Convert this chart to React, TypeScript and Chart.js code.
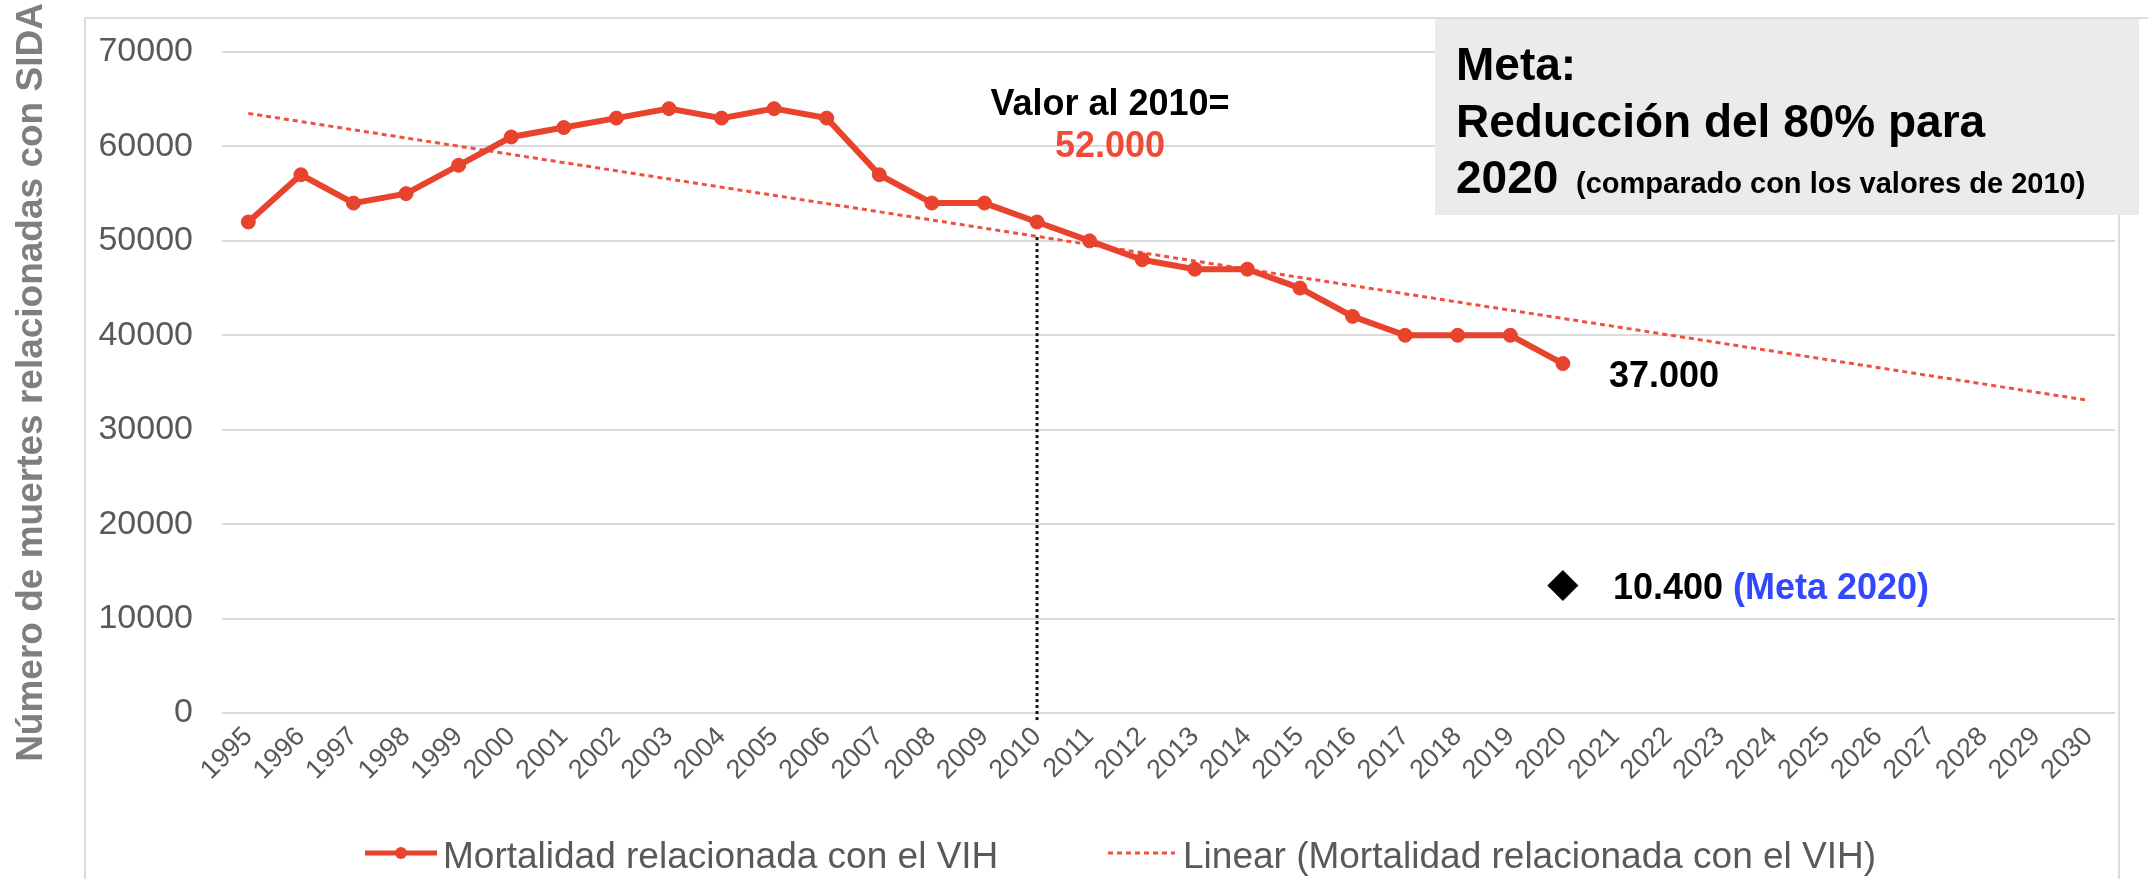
import React, { useEffect, useRef } from 'react';
import { Chart, registerables } from 'chart.js';

Chart.register(...registerables);

// ---- data ----
const years = [
  '1995', '1996', '1997', '1998', '1999', '2000', '2001', '2002', '2003', '2004',
  '2005', '2006', '2007', '2008', '2009', '2010', '2011', '2012', '2013', '2014',
  '2015', '2016', '2017', '2018', '2019', '2020', '2021', '2022', '2023', '2024',
  '2025', '2026', '2027', '2028', '2029', '2030',
];
const deaths = [
  52000, 57000, 54000, 55000, 58000, 61000, 62000, 63000, 64000, 63000,
  64000, 63000, 57000, 54000, 54000, 52000, 50000, 48000, 47000, 47000,
  45000, 42000, 40000, 40000, 40000, 37000,
];
const trendYears = ['1995', '2030'];
const trendValues = [63500, 33100];
const goalYears = ['2020'];
const goalValues = [13500];
const markerYear = '2010';
const markerTopValue = 50400;
const yMin = 0;
const yMax = 70000;
const yStep = 10000;
const seriesNames = [
  'Mortalidad relacionada con el VIH',
  'Linear (Mortalidad relacionada con el VIH)',
  'Meta 2020',
];
const yTitle = 'Número de muertes relacionadas con SIDA';

// ---- styles ----
const FONT = "'Liberation Sans', Arial, Helvetica, sans-serif";
const RED = '#e8432d';
const TREND = '#f0503f';
const GRAY = '#595959';
const GRID = '#dadada';

const framePlugin = {
  id: 'frame',
  beforeDraw(chart: any) {
    const ctx = chart.ctx;
    ctx.save();
    ctx.fillStyle = '#ffffff';
    ctx.fillRect(0, 0, chart.width, chart.height);
    ctx.strokeStyle = '#dcdcdc';
    ctx.lineWidth = 2;
    ctx.beginPath();
    ctx.moveTo(85, chart.height);
    ctx.lineTo(85, 18);
    ctx.lineTo(chart.width, 18);
    ctx.moveTo(2119, 215);
    ctx.lineTo(2119, chart.height);
    ctx.stroke();
    ctx.restore();
  },
};

const annotationPlugin = {
  id: 'annotations',
  afterDatasetsDraw(chart: any) {
    const ctx = chart.ctx;
    const xs = chart.scales.x;
    const ys = chart.scales.y;
    ctx.save();
    // vertical dotted marker at 2010
    const mx = xs.getPixelForValue(years.indexOf(markerYear));
    ctx.setLineDash([3, 3]);
    ctx.strokeStyle = '#111111';
    ctx.lineWidth = 3;
    ctx.beginPath();
    ctx.moveTo(mx, ys.getPixelForValue(markerTopValue));
    ctx.lineTo(mx, ys.getPixelForValue(0) + 9);
    ctx.stroke();
    ctx.setLineDash([]);

    ctx.textBaseline = 'alphabetic';
    // Valor al 2010
    ctx.font = `bold 36px ${FONT}`;
    ctx.textAlign = 'center';
    ctx.fillStyle = '#000000';
    ctx.fillText('Valor al 2010=', mx + 73, 115);
    ctx.fillStyle = '#f04a38';
    ctx.fillText('52.000', mx + 73, 157);

    // last value
    const lastIdx = deaths.length - 1;
    const lx = xs.getPixelForValue(lastIdx);
    const ly = ys.getPixelForValue(deaths[lastIdx]);
    ctx.textAlign = 'left';
    ctx.fillStyle = '#000000';
    ctx.fillText('37.000', lx + 46, ly + 23);

    // goal
    const gx = xs.getPixelForValue(years.indexOf(goalYears[0]));
    const gy = ys.getPixelForValue(goalValues[0]);
    ctx.fillText('10.400', gx + 50, gy + 13);
    const w = ctx.measureText('10.400 ').width;
    ctx.fillStyle = '#3347ff';
    ctx.fillText('(Meta 2020)', gx + 50 + w, gy + 13);
    ctx.restore();
  },
  afterDraw(chart: any) {
    const ctx = chart.ctx;
    ctx.save();
    // Meta box
    ctx.fillStyle = '#ebebea';
    ctx.fillRect(1435, 19, 704, 196);
    ctx.fillStyle = '#000000';
    ctx.textAlign = 'left';
    ctx.textBaseline = 'alphabetic';
    ctx.font = `bold 46px ${FONT}`;
    ctx.fillText('Meta:', 1456, 80);
    ctx.fillText('Reducción del 80% para', 1456, 137);
    ctx.fillText('2020', 1456, 193);
    ctx.font = `bold 29px ${FONT}`;
    ctx.fillText('(comparado con los valores de 2010)', 1576, 193);

    // legend
    const ds = chart.data.datasets;
    const ly = 853;
    ctx.font = `37px ${FONT}`;
    ctx.fillStyle = GRAY;
    // item 1
    ctx.strokeStyle = ds[0].borderColor;
    ctx.lineWidth = 5;
    ctx.beginPath();
    ctx.moveTo(365, ly);
    ctx.lineTo(437, ly);
    ctx.stroke();
    ctx.fillStyle = ds[0].pointBackgroundColor;
    ctx.beginPath();
    ctx.arc(401, ly, 6, 0, Math.PI * 2);
    ctx.fill();
    ctx.fillStyle = GRAY;
    ctx.fillText(ds[0].label, 443, 868);
    // item 2
    ctx.strokeStyle = ds[1].borderColor;
    ctx.lineWidth = 3;
    ctx.setLineDash(ds[1].borderDash);
    ctx.beginPath();
    ctx.moveTo(1108, ly);
    ctx.lineTo(1175, ly);
    ctx.stroke();
    ctx.setLineDash([]);
    ctx.fillText(ds[1].label, 1183, 868);
    ctx.restore();
  },
};

export default function App() {
  const ref = useRef<HTMLCanvasElement | null>(null);

  useEffect(() => {
    document.body.style.margin = '0';
    document.body.style.overflow = 'hidden';
    const canvas = ref.current;
    if (!canvas) return;
    const chart = new Chart(canvas, {
      type: 'line',
      data: {
        labels: years,
        datasets: [
          {
            label: seriesNames[0],
            data: deaths,
            borderColor: RED,
            backgroundColor: RED,
            pointBackgroundColor: RED,
            pointBorderColor: RED,
            borderWidth: 6,
            pointRadius: 7,
            pointBorderWidth: 1,
            tension: 0,
            order: 1,
          },
          {
            label: seriesNames[1],
            data: trendYears.map((y, i) => ({ x: y, y: trendValues[i] })),
            borderColor: TREND,
            backgroundColor: TREND,
            borderWidth: 3,
            borderDash: [5, 4],
            pointRadius: 0,
            tension: 0,
            order: 2,
          },
          {
            label: seriesNames[2],
            data: goalYears.map((y, i) => ({ x: y, y: goalValues[i] })),
            showLine: false,
            pointStyle: 'rectRot',
            pointRadius: 15,
            pointBackgroundColor: '#000000',
            pointBorderColor: '#000000',
            pointBorderWidth: 1,
            borderColor: '#000000',
            backgroundColor: '#000000',
            order: 0,
          },
        ],
      },
      options: {
        animation: false,
        responsive: false,
        devicePixelRatio: 1,
        layout: { padding: { left: 0, right: 33, top: 52, bottom: 0 } },
        plugins: {
          legend: { display: false },
          tooltip: { enabled: false },
        },
        scales: {
          x: {
            type: 'category',
            offset: true,
            grid: { display: false, drawTicks: false },
            border: { display: false },
            ticks: {
              autoSkip: false,
              maxRotation: 45,
              minRotation: 45,
              padding: 8,
              color: GRAY,
              font: { family: FONT, size: 27 },
            },
            afterFit(scale: any) {
              scale.height = 166;
            },
          },
          y: {
            min: yMin,
            max: yMax,
            grid: { color: GRID, lineWidth: 2, drawTicks: false },
            border: { display: false },
            ticks: {
              stepSize: yStep,
              padding: 29,
              color: GRAY,
              font: { family: FONT, size: 34 },
              callback: (v: any) => String(v),
            },
            title: {
              display: true,
              text: yTitle,
              color: '#7f7f7f',
              font: { family: FONT, size: 37, weight: 'bold' },
              padding: { top: 10, bottom: 0 },
            },
            afterFit(scale: any) {
              scale.width = 222;
            },
          },
        },
      },
      plugins: [framePlugin, annotationPlugin],
    });
    return () => chart.destroy();
  }, []);

  return (
    <div style={{ width: 2148, height: 879 }}>
      <canvas ref={ref} width={2148} height={879} style={{ display: 'block' }} />
    </div>
  );
}
